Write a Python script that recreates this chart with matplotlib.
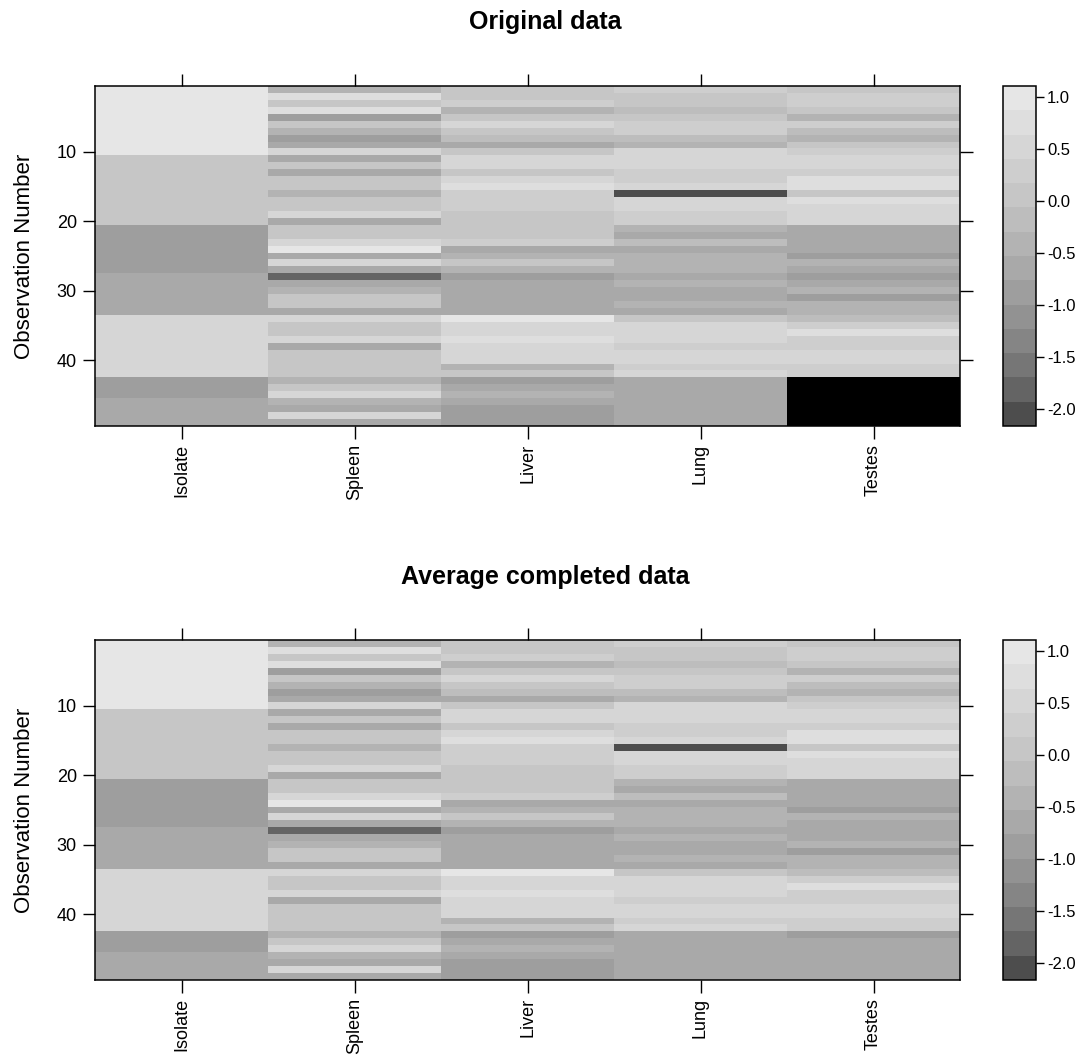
import matplotlib
matplotlib.use("Agg")
import matplotlib.pyplot as plt
import matplotlib.colors as mcolors
import matplotlib.colorbar as mcolorbar
import numpy as np

plt.rcParams['font.family'] = ['Liberation Sans', 'DejaVu Sans']
plt.rcParams['axes.unicode_minus'] = False

# ---- data ----
columns = ["Isolate", "Spleen", "Liver", "Lung", "Testes"]

isolate = [1.0] * 10 + [0.05] * 10 + [-0.85] * 7 + [-0.55] * 6 + [0.5] * 9 + [-0.85] * 3 + [-0.6] * 4

spleen = [-0.41, 0.76, 0.06, 0.76, -0.87, 0.06, -0.41, -0.87, -0.64, 0.53,
          -0.64, 0.06, -0.64, 0.06, 0.06, -0.41, 0.06, 0.06, 0.53, -0.64,
          0.06, 0.06, 0.53, 0.99, -0.64, 0.53, -0.64, -1.81, -0.64, -0.41,
          0.06, 0.06, -0.64, 0.53, 0.06, 0.06, 0.53, -0.64, 0.06, 0.06,
          0.06, 0.06, -0.41, 0.06, 0.53, -0.41, -0.64, 0.53, -0.64]

liver = [0.06, 0.06, 0.29, -0.41, 0.06, 0.53, 0.06, -0.17, -0.64, 0.06,
         0.53, 0.53, 0.06, 0.53, 0.76, 0.29, 0.29, 0.29, 0.06, 0.06,
         0.06, 0.06, 0.29, -0.64, -0.41, 0.06, -0.41, -0.87, -0.64, -0.64,
         -0.64, -0.64, -0.64, 0.99, 0.53, 0.53, 0.76, 0.53, 0.53, 0.53,
         -0.41, 0.06, -0.87, -0.64, -0.41, -0.64, -0.87, -0.87, -0.87]

lung = [0.29, 0.06, 0.06, -0.17, 0.06, 0.29, 0.29, -0.17, -0.41, 0.53,
        0.53, 0.53, 0.29, 0.29, 0.53, -2.04, 0.53, 0.53, 0.29, 0.29,
        -0.41, -0.64, -0.17, -0.64, -0.41, -0.41, -0.41, -0.64, -0.41, -0.64,
        -0.64, -0.41, -0.64, 0.06, 0.53, 0.53, 0.53, 0.29, 0.53, 0.53,
        0.29, 0.53, -0.64, -0.64, -0.64, -0.64, -0.64, -0.64, -0.64]

testes_orig = [0.06, 0.29, 0.29, 0.06, -0.41, 0.29, -0.17, -0.41, 0.06, 0.29,
               0.53, 0.53, 0.29, 0.76, 0.76, 0.06, 0.76, 0.53, 0.53, 0.53,
               -0.64, -0.64, -0.64, -0.64, -0.87, -0.41, -0.64, -0.87, -0.64, -0.41,
               -0.87, -0.41, -0.41, -0.17, 0.29, 0.76, 0.29, 0.29, 0.53, 0.53,
               0.29, 0.29] + [np.nan] * 7

testes_comp = [0.06, 0.29, 0.29, 0.06, -0.41, 0.29, -0.17, -0.41, 0.06, 0.29,
               0.53, 0.53, 0.29, 0.76, 0.76, 0.06, 0.76, 0.53, 0.53, 0.53,
               -0.64, -0.64, -0.64, -0.64, -0.87, -0.41, -0.64, -0.64, -0.64, -0.41,
               -0.87, -0.41, -0.41, -0.17, 0.29, 0.76, 0.29, 0.29, 0.53, 0.53,
               0.29, 0.29, -0.87, -0.64, -0.64, -0.64, -0.64, -0.64, -0.64]

cbar_ticks = [-2.0, -1.5, -1.0, -0.5, 0.0, 0.5, 1.0]

original = np.array([isolate, spleen, liver, lung, testes_orig]).T
completed = np.array([isolate, spleen, liver, lung, testes_comp]).T

# grey palette like R's gray.colors(14)
n_lev = 14
g = (np.linspace(0.3 ** 2.2, 0.9 ** 2.2, n_lev)) ** (1 / 2.2)
cmap = mcolors.ListedColormap([(v, v, v) for v in g])
cmap.set_bad("black")
bounds = np.linspace(-2.16, 1.11, n_lev + 1)
norm = mcolors.BoundaryNorm(bounds, n_lev)

fig = plt.figure(figsize=(10.9, 10.59), dpi=100)
W, H = 1090, 1059


def panel(data, top_px, title, title_px):
    ax = fig.add_axes([95 / W, 1 - (top_px + 340) / H, 865 / W, 340 / H])
    nrow = data.shape[0]
    x_edges = np.arange(len(columns) + 1) + 0.5
    y_edges = np.arange(nrow + 1) + 0.5
    ax.pcolormesh(x_edges, y_edges, np.ma.masked_invalid(data), cmap=cmap, norm=norm)
    ax.set_xlim(0.5, len(columns) + 0.5)
    ax.set_ylim(nrow + 0.5, 0.5)
    ax.set_xticks(np.arange(1, len(columns) + 1))
    ax.set_xticklabels(columns, rotation=90, fontsize=13)
    ax.set_yticks([10, 20, 30, 40])
    ax.set_yticklabels(["10", "20", "30", "40"], fontsize=13)
    ax.tick_params(top=True, right=True, direction='out', length=9, width=1, pad=4)
    for s in ax.spines.values():
        s.set_linewidth(1.1)
    fig.text(25 / W, 1 - (top_px + 170) / H, "Observation Number", rotation=90,
             ha='center', va='center', fontsize=16)

    cax = fig.add_axes([1003 / W, 1 - (top_px + 340) / H, 33 / W, 340 / H])
    cb = mcolorbar.ColorbarBase(cax, cmap=cmap, norm=norm, boundaries=bounds,
                                orientation='vertical')
    cb.set_ticks(cbar_ticks)
    cb.set_ticklabels(["%.1f" % t for t in cbar_ticks])
    cax.minorticks_off()
    cax.tick_params(labelsize=12, length=6, width=1, pad=2)
    cb.outline.set_linewidth(1.1)

    fig.text(0.5, 1 - title_px / H, title, ha='center', va='center',
             fontsize=18, fontweight='bold')


panel(original, 86, "Original data", 22)
panel(completed, 640, "Average completed data", 577)

plt.savefig("out.png", dpi=100)
